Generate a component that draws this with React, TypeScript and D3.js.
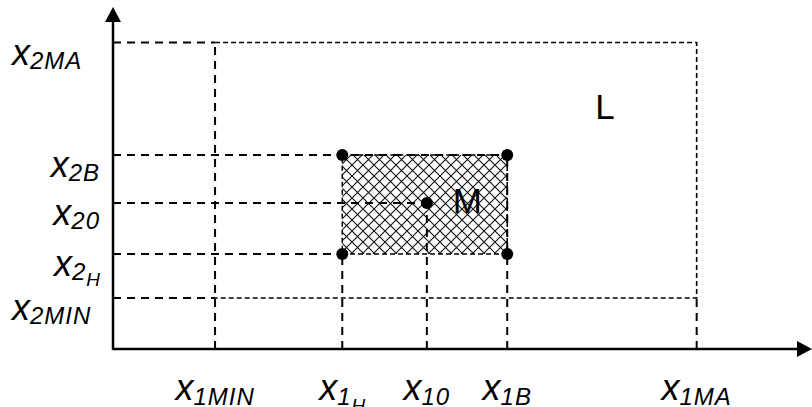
import React, { useEffect, useRef } from 'react'
import * as d3 from 'd3'

// levels on the horizontal axis
const xKeys = ['x1MIN', 'x1H', 'x10', 'x1B', 'x1MA']
const xValues = [14.6, 32.8, 44.9, 56.4, 83.5]
const xSubs = ['1MIN', '1', '10', '1B', '1MA']
const xSubSubs = ['', 'H', '', '', '']
const xDropTo = ['x2MA', 'x2H', 'x20', 'x2B', 'x2MIN']

// levels on the vertical axis
const yKeys = ['x2MIN', 'x2H', 'x20', 'x2B', 'x2MA']
const yValues = [14.9, 27.8, 42.7, 56.7, 89.6]
const ySubs = ['2MIN', '2', '20', '2B', '2MA']
const ySubSubs = ['', 'H', '', '', '']
const yDropTo = ['x1MIN', 'x1H', 'x10', 'x1B', 'x1MIN']

// regions [x from, x to, y from, y to]
const regionL = ['x1MIN', 'x1MA', 'x2MIN', 'x2MA']
const regionM = ['x1H', 'x1B', 'x2H', 'x2B']
const points = [
  ['x1H', 'x2B'],
  ['x1B', 'x2B'],
  ['x1H', 'x2H'],
  ['x1B', 'x2H'],
  ['x10', 'x20'],
]
const regionNames = ['L', 'M']
const nameX = [69, 48.6]
const nameY = [67.3, 39.8]

const W = 812
const H = 407

export default function App() {
  const ref = useRef<SVGSVGElement>(null)

  useEffect(() => {
    const svg = d3.select(ref.current)
    svg.selectAll('*').remove()

    const xScale = d3.scaleLinear().domain([0, 100]).range([113, 812])
    const yScale = d3.scaleLinear().domain([0, 100]).range([349, 7])

    const xv = (k: string) => xValues[xKeys.indexOf(k)]
    const yv = (k: string) => yValues[yKeys.indexOf(k)]

    const coarse = '8,6'
    const fine = '5,3'

    // hatch pattern
    const defs = svg.append('defs')
    const pat = defs
      .append('pattern')
      .attr('id', 'hatch')
      .attr('patternUnits', 'userSpaceOnUse')
      .attr('width', 11)
      .attr('height', 11)
    pat.append('rect').attr('width', 11).attr('height', 11).attr('fill', '#fff')
    pat
      .append('path')
      .attr('d', 'M0,0L11,11M11,0L0,11M-1,10L1,12M10,-1L12,1')
      .attr('stroke', '#111')
      .attr('stroke-width', 1.1)

    // region M (hatched)
    const mx0 = xScale(xv(regionM[0]))
    const mx1 = xScale(xv(regionM[1]))
    const my0 = yScale(yv(regionM[2]))
    const my1 = yScale(yv(regionM[3]))
    svg
      .append('rect')
      .attr('x', mx0)
      .attr('y', my1)
      .attr('width', mx1 - mx0)
      .attr('height', my0 - my1)
      .attr('fill', 'url(#hatch)')
      .attr('stroke', '#000')
      .attr('stroke-width', 1.5)
      .attr('stroke-dasharray', fine)

    // region L: top, right, bottom edges (left edge is the x1MIN projection)
    const lx0 = xScale(xv(regionL[0]))
    const lx1 = xScale(xv(regionL[1]))
    const ly0 = yScale(yv(regionL[2]))
    const ly1 = yScale(yv(regionL[3]))
    svg
      .append('path')
      .attr('d', `M${lx0},${ly1}H${lx1}V${ly0}H${lx0}`)
      .attr('fill', 'none')
      .attr('stroke', '#000')
      .attr('stroke-width', 1.6)
      .attr('stroke-dasharray', fine)

    // projection lines to the axes
    svg
      .append('g')
      .selectAll('line')
      .data(yKeys)
      .enter()
      .append('line')
      .attr('x1', xScale(0))
      .attr('x2', (d, i) => xScale(xv(yDropTo[i])))
      .attr('y1', (d) => yScale(yv(d)))
      .attr('y2', (d) => yScale(yv(d)))
      .attr('stroke', '#000')
      .attr('stroke-width', 2)
      .attr('stroke-dasharray', coarse)

    svg
      .append('g')
      .selectAll('line')
      .data(xKeys)
      .enter()
      .append('line')
      .attr('x1', (d) => xScale(xv(d)))
      .attr('x2', (d) => xScale(xv(d)))
      .attr('y1', yScale(0))
      .attr('y2', (d, i) => yScale(yv(xDropTo[i])))
      .attr('stroke', '#000')
      .attr('stroke-width', 2)
      .attr('stroke-dasharray', coarse)

    // axes with arrows
    const [ox, ex] = xScale.range()
    const [oy, ey] = yScale.range()
    svg
      .append('line')
      .attr('x1', ox)
      .attr('y1', oy)
      .attr('x2', ex - 10)
      .attr('y2', oy)
      .attr('stroke', '#000')
      .attr('stroke-width', 2.5)
    svg
      .append('path')
      .attr('d', `M${ex},${oy}L${ex - 15},${oy - 8}L${ex - 15},${oy + 8}Z`)
      .attr('fill', '#000')
    svg
      .append('line')
      .attr('x1', ox)
      .attr('y1', oy + 1)
      .attr('x2', ox)
      .attr('y2', ey + 10)
      .attr('stroke', '#000')
      .attr('stroke-width', 2.5)
    svg
      .append('path')
      .attr('d', `M${ox},${ey}L${ox - 8},${ey + 15}L${ox + 8},${ey + 15}Z`)
      .attr('fill', '#000')

    // points
    svg
      .append('g')
      .selectAll('circle')
      .data(points)
      .enter()
      .append('circle')
      .attr('cx', (d) => xScale(xv(d[0])))
      .attr('cy', (d) => yScale(yv(d[1])))
      .attr('r', 6)
      .attr('fill', '#000')

    const font = "'Liberation Sans', Arial, sans-serif"

    // region names
    svg
      .append('g')
      .selectAll('text')
      .data(regionNames)
      .enter()
      .append('text')
      .attr('x', (d, i) => xScale(nameX[i]))
      .attr('y', (d, i) => yScale(nameY[i]))
      .attr('font-family', font)
      .attr('font-size', 35)
      .text((d) => d)

    // x labels
    const xl = svg
      .append('g')
      .selectAll('text')
      .data(xKeys)
      .enter()
      .append('text')
      .attr('x', (d) => xScale(xv(d)))
      .attr('y', 400)
      .attr('text-anchor', 'middle')
      .attr('font-family', font)
      .attr('font-style', 'italic')
    xl.append('tspan').attr('font-size', 36).text('x')
    xl.append('tspan')
      .attr('font-size', 24)
      .attr('letter-spacing', 1)
      .attr('dy', 5)
      .text((d, i) => xSubs[i])
    xl.append('tspan')
      .attr('font-size', 19)
      .attr('dy', 7)
      .text((d, i) => xSubSubs[i])

    // y labels: short ones right-aligned next to the axis, long ones from the left margin
    const yl = svg
      .append('g')
      .selectAll('text')
      .data(yKeys)
      .enter()
      .append('text')
      .attr('x', 100)
      .attr('y', (d) => yScale(yv(d)) + 22)
      .attr('text-anchor', 'end')
      .attr('font-family', font)
      .attr('font-style', 'italic')
    yl.append('tspan').attr('font-size', 36).text('x')
    yl.append('tspan')
      .attr('font-size', 24)
      .attr('letter-spacing', 1)
      .attr('dy', 4)
      .text((d, i) => ySubs[i])
    yl.append('tspan')
      .attr('font-size', 19)
      .attr('dy', 6)
      .text((d, i) => ySubSubs[i])
    yl.each(function () {
      const t = this as SVGTextElement
      if (t.getComputedTextLength() > 65) {
        d3.select(t).attr('text-anchor', 'start').attr('x', 12)
      }
    })
  }, [])

  return (
    <svg
      ref={ref}
      width={W}
      height={H}
      style={{ position: 'absolute', left: 0, top: 0, background: '#fff' }}
    />
  )
}
